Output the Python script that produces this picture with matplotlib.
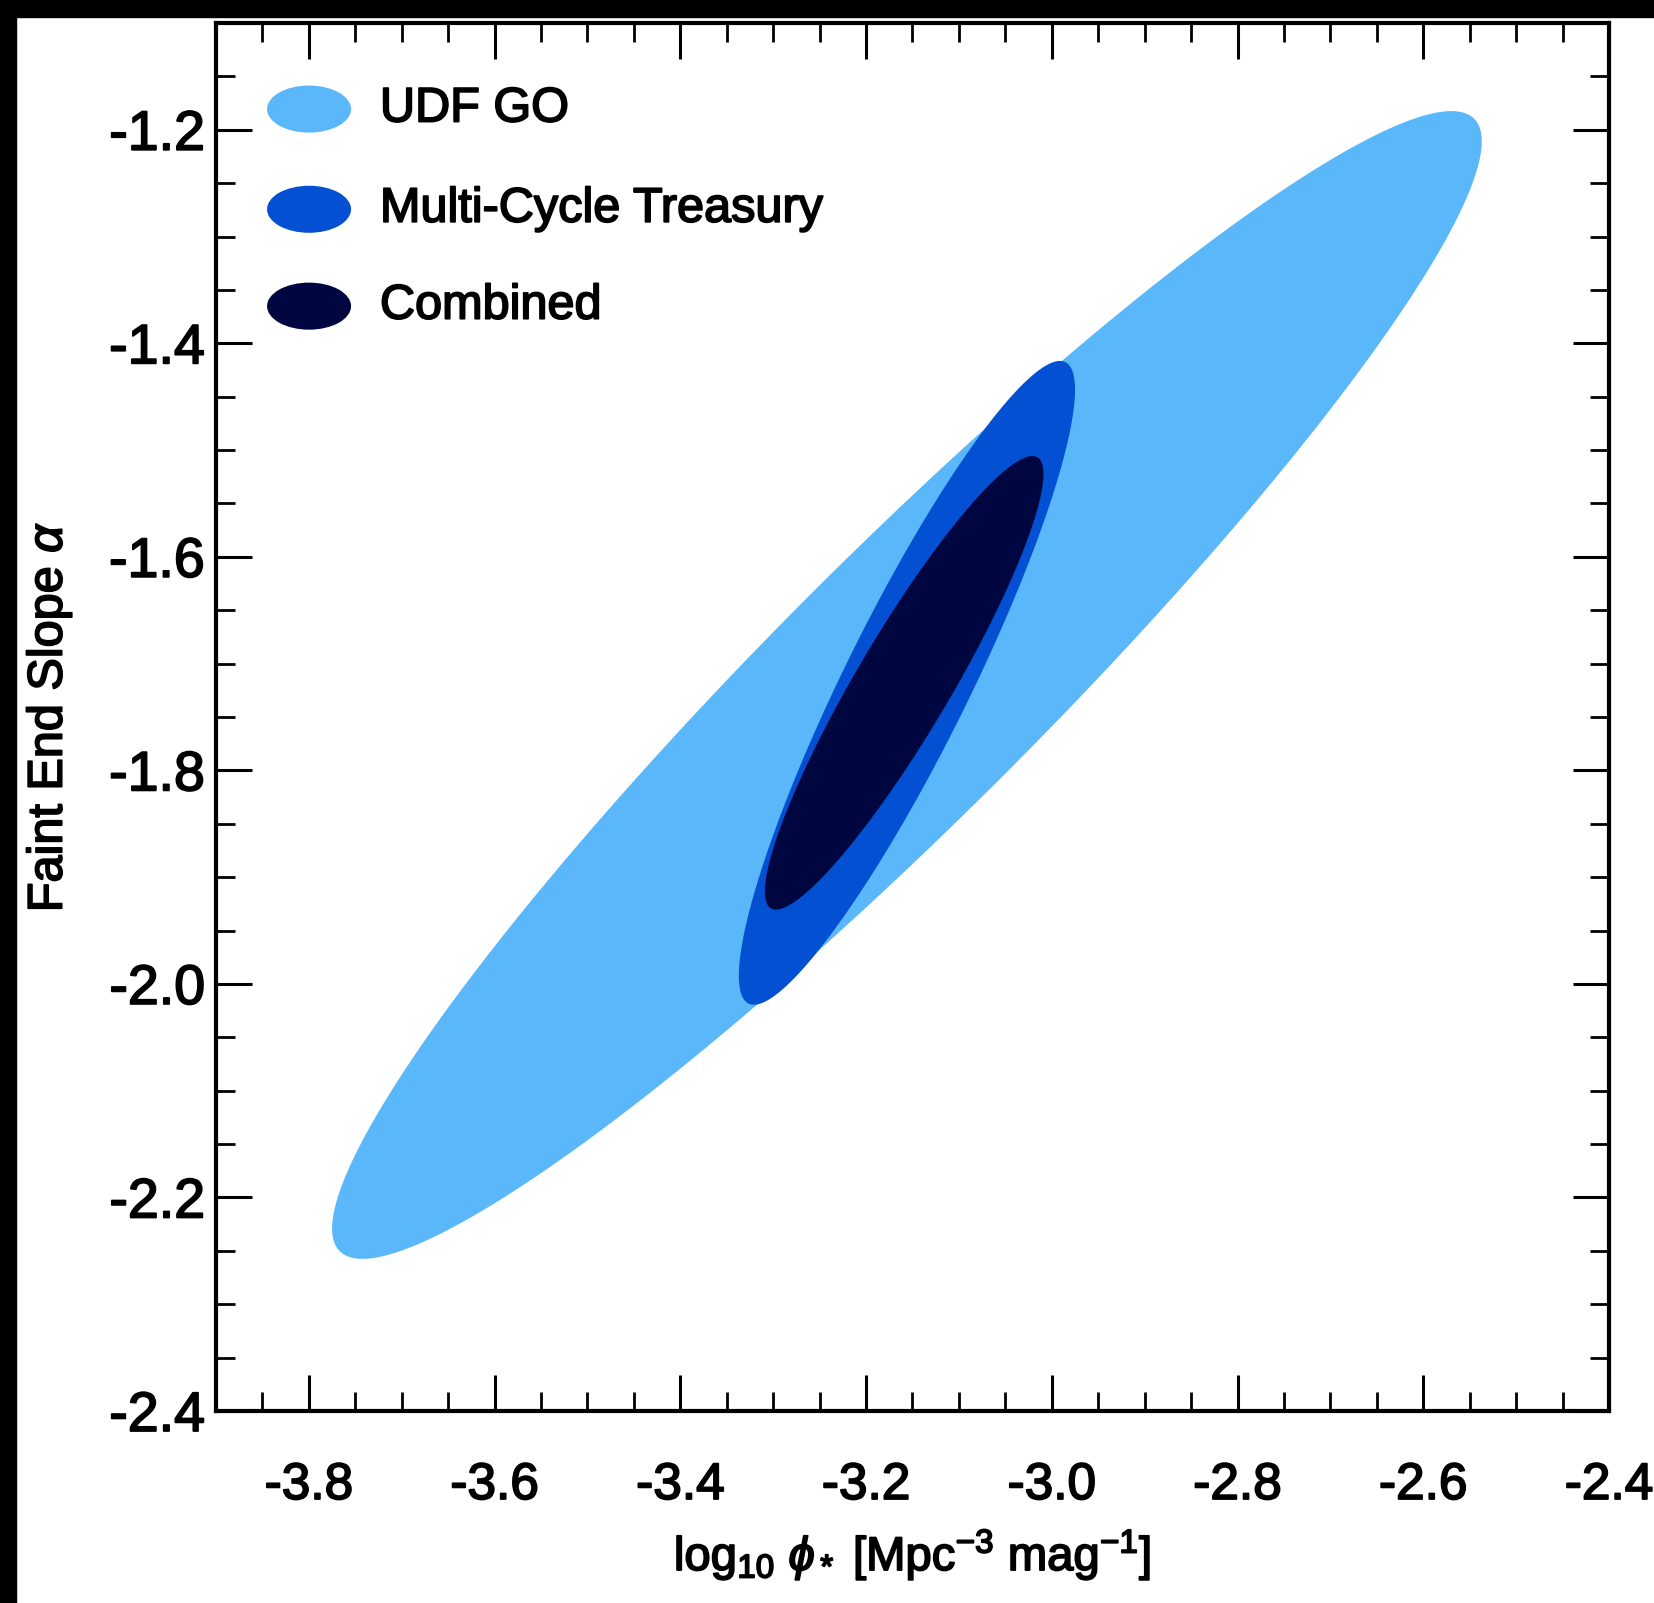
import numpy as np
import matplotlib
matplotlib.use('Agg')
import matplotlib.pyplot as plt
import matplotlib.patheffects as pe
from matplotlib.patches import Ellipse, Rectangle
from matplotlib.ticker import MultipleLocator

plt.rcParams['font.family'] = ['Liberation Sans', 'DejaVu Sans']
plt.rcParams['mathtext.fontset'] = 'custom'
plt.rcParams['mathtext.rm'] = 'Liberation Sans'
plt.rcParams['mathtext.it'] = 'Liberation Sans:italic'
plt.rcParams['axes.unicode_minus'] = False

# confidence ellipses (log10 phi*, alpha): centre, half extents, correlation
labels = ['UDF GO', 'Multi-Cycle Treasury', 'Combined']
colors = ['#5AB7FA', '#0450D2', '#000640']
center_x = [-3.156, -3.156, -3.159]
center_y = [-1.720, -1.718, -1.718]
half_x = [0.619, 0.181, 0.150]
half_y = [0.5375, 0.3015, 0.2124]
rho = [0.947, 0.91, 0.92]

x_ticks = [-3.8, -3.6, -3.4, -3.2, -3.0, -2.8, -2.6, -2.4]
y_ticks = [-2.4, -2.2, -2.0, -1.8, -1.6, -1.4, -1.2]

# heavier strokes, like the blurred IDL text
heavy = [pe.withStroke(linewidth=1.3, foreground='black')]

fig = plt.figure(figsize=(16.54, 16.03), dpi=100)
ax = fig.add_axes([216 / 1654, 1 - 1411 / 1603, 1393 / 1654, 1388 / 1603])

t = np.linspace(0, 2 * np.pi, 500)
for cx, cy, hx, hy, r, c in zip(center_x, center_y, half_x, half_y, rho, colors):
    xs = cx + hx * np.cos(t)
    ys = cy + hy * (r * np.cos(t) + np.sqrt(1 - r ** 2) * np.sin(t))
    ax.fill(xs, ys, color=c, lw=0)

ax.set_xlim(-3.9, -2.4)
ax.set_ylim(-2.4, -1.1)
ax.set_xticks(x_ticks)
ax.set_yticks(y_ticks)
ax.set_xticklabels(['%.1f' % v for v in x_ticks])
ax.set_yticklabels(['%.1f' % v for v in y_ticks])
ax.xaxis.set_minor_locator(MultipleLocator(0.05))
ax.yaxis.set_minor_locator(MultipleLocator(0.05))
ax.tick_params(which='both', direction='in', top=True, right=True)
ax.tick_params(which='major', length=26, width=2.2)
ax.tick_params(which='minor', length=14, width=2.0)
ax.tick_params(axis='x', labelsize=37, pad=36)
ax.tick_params(axis='y', labelsize=40, pad=8)
for s in ax.spines.values():
    s.set_linewidth(3)
for lab in ax.get_xticklabels() + ax.get_yticklabels():
    lab.set_path_effects(heavy)

ax.set_xlabel(r'log$_{10}$ $\phi_*$ [Mpc$^{-3}$ mag$^{-1}$]', fontsize=34,
              path_effects=heavy)
ax.xaxis.set_label_coords(0.5, -0.084)
ax.set_ylabel(r'Faint End Slope $\alpha$', fontsize=35, path_effects=heavy)
ax.yaxis.set_label_coords(-0.102, 0.5)

# legend: filled ellipses with labels
leg_y = [0.9380, 0.8658, 0.7960]
for lab, c, ly in zip(labels, colors, leg_y):
    ax.add_patch(Ellipse((0.0668, ly), 0.0603, 0.0339, transform=ax.transAxes,
                         color=c, lw=0))
    ax.text(0.1177, ly, lab, transform=ax.transAxes, fontsize=35,
            va='center', ha='left', path_effects=heavy)

# black screenshot borders
fig.patches.append(Rectangle((0, 1 - 17 / 1603), 1, 17 / 1603, transform=fig.transFigure,
                             color='black', zorder=10))
fig.patches.append(Rectangle((0, 0), 16 / 1654, 1, transform=fig.transFigure,
                             color='black', zorder=10))

fig.savefig('out.png', dpi=100)
